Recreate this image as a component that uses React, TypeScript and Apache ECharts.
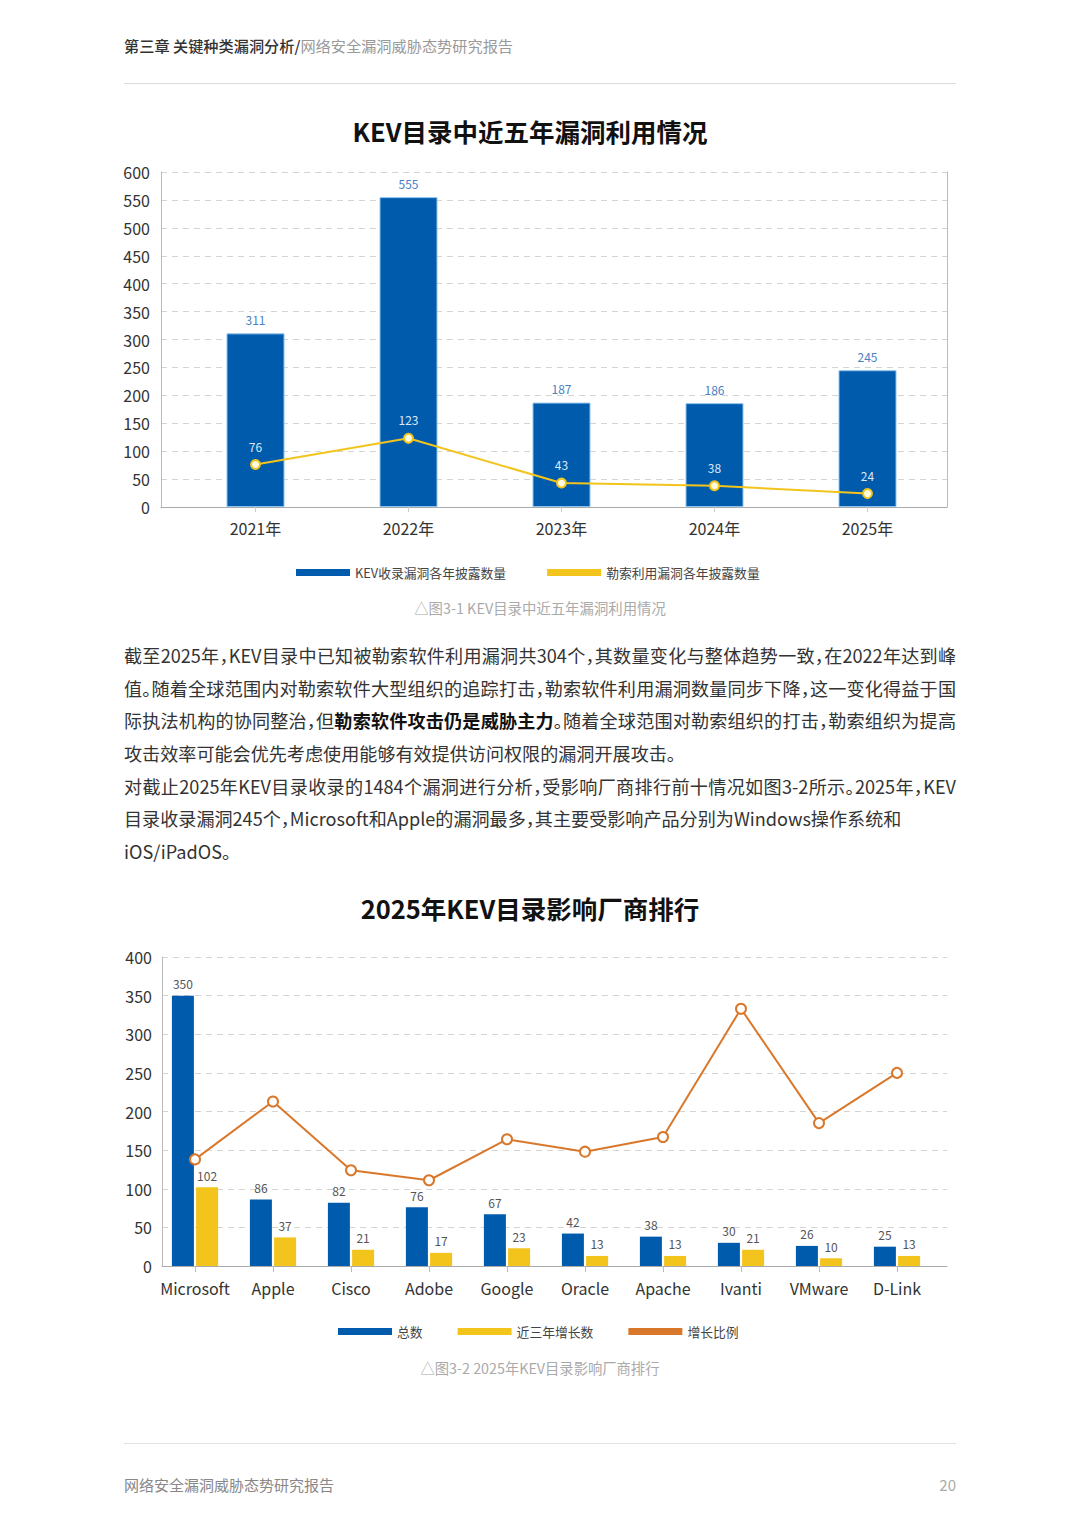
import React, { useEffect, useRef } from "react";
import * as echarts from "echarts";

const years = ["2021年", "2022年", "2023年", "2024年", "2025年"];
const kevCounts = [311, 555, 187, 186, 245];
const ransomCounts = [76, 123, 43, 38, 24];
const yTicks1 = [0, 600, 50];

const vendors = ["Microsoft", "Apple", "Cisco", "Adobe", "Google", "Oracle", "Apache", "Ivanti", "VMware", "D-Link"];
const vendorTotals = [350, 86, 82, 76, 67, 42, 38, 30, 26, 25];
const vendorGrowth3y = [102, 37, 21, 17, 23, 13, 13, 21, 10, 13];
const vendorGrowthRatio = [138, 213, 124, 111, 164, 148, 167, 333, 185, 250];
const yTicks2 = [0, 400, 50];

const BLUE = "#005bac";
const YELLOW = "#f2c41c";
const ORANGE = "#d9772b";
const FONT = "'Noto Sans CJK SC', 'Noto Sans', sans-serif";

const paraLines: { parts: { t: string; b?: boolean }[]; justify: boolean }[] = [
  { parts: [{ t: "截至2025年，KEV目录中已知被勒索软件利用漏洞共304个，其数量变化与整体趋势一致，在2022年达到峰" }], justify: true },
  { parts: [{ t: "值。随着全球范围内对勒索软件大型组织的追踪打击，勒索软件利用漏洞数量同步下降，这一变化得益于国" }], justify: true },
  { parts: [{ t: "际执法机构的协同整治，但" }, { t: "勒索软件攻击仍是威胁主力", b: true }, { t: "。随着全球范围对勒索组织的打击，勒索组织为提高" }], justify: true },
  { parts: [{ t: "攻击效率可能会优先考虑使用能够有效提供访问权限的漏洞开展攻击。" }], justify: false },
  { parts: [{ t: "对截止2025年KEV目录收录的1484个漏洞进行分析，受影响厂商排行前十情况如图3-2所示。2025年，KEV" }], justify: true },
  { parts: [{ t: "目录收录漏洞245个，Microsoft和Apple的漏洞最多，其主要受影响产品分别为Windows操作系统和" }], justify: false },
  { parts: [{ t: "iOS/iPadOS。" }], justify: false },
];

const frameX = (gridIndex: number) => ({
  gridIndex,
  type: "value",
  min: 0,
  max: 1,
  axisLine: { show: true, lineStyle: { color: "#aaa" } },
  axisTick: { show: false },
  axisLabel: { show: false },
  splitLine: { show: false },
});

function Chart1() {
  const ref = useRef<HTMLDivElement>(null);
  useEffect(() => {
    const chart = echarts.init(ref.current!, null, { renderer: "svg" });
    const gTop = 72;
    const gBottom = 83;
    chart.setOption({
      animation: false,
      textStyle: { fontFamily: FONT },
      title: {
        text: "KEV目录中近五年漏洞利用情况",
        left: 525,
        textAlign: "center",
        top: 13,
        textStyle: { fontSize: 25.5, fontWeight: "bold", color: "#111", fontFamily: FONT },
      },
      legend: {
        left: 296,
        top: 466,
        padding: 0,
        itemWidth: 54,
        itemHeight: 7,
        itemGap: 41,
        icon: "rect",
        textStyle: { fontSize: 12.8, color: "#444", fontFamily: FONT },
        data: [
          { name: "KEV收录漏洞各年披露数量", itemStyle: { color: BLUE, borderWidth: 0 } },
          { name: "勒索利用漏洞各年披露数量", itemStyle: { color: YELLOW, borderWidth: 0 } },
        ],
      },
      grid: [
        { left: 161, right: 133, top: gTop, bottom: gBottom },
        { left: 179, right: 136, top: gTop, bottom: gBottom },
      ],
      xAxis: [
        frameX(0),
        {
          gridIndex: 1,
          type: "category",
          data: years,
          axisLine: { show: false },
          axisTick: { show: true, alignWithLabel: true, length: 5, lineStyle: { color: "#ccc" } },
          axisLabel: { fontSize: 16, color: "#333", margin: 13, fontFamily: FONT },
        },
      ],
      yAxis: [
        {
          gridIndex: 0,
          type: "value",
          min: yTicks1[0],
          max: yTicks1[1],
          interval: yTicks1[2],
          axisLine: { show: true, lineStyle: { color: "#bbb" } },
          axisTick: { show: false },
          axisLabel: { fontSize: 16, color: "#333", margin: 11, fontFamily: FONT },
          splitLine: { lineStyle: { type: [6, 5], color: "#d4d4d4" } },
        },
        {
          gridIndex: 0,
          type: "value",
          position: "right",
          min: yTicks1[0],
          max: yTicks1[1],
          interval: yTicks1[2],
          axisLine: { show: true, lineStyle: { color: "#bbb" } },
          axisTick: { show: false },
          axisLabel: { show: false },
          splitLine: { show: false },
        },
        {
          gridIndex: 1,
          type: "value",
          min: yTicks1[0],
          max: yTicks1[1],
          interval: yTicks1[2],
          show: false,
          splitLine: { show: false },
        },
      ],
      series: [
        {
          name: "KEV收录漏洞各年披露数量",
          type: "bar",
          xAxisIndex: 1,
          yAxisIndex: 2,
          data: kevCounts,
          barWidth: 58,
          itemStyle: { color: BLUE, borderColor: "#8cc4ee", borderWidth: 1 },
          label: { show: true, position: "top", distance: 8, fontSize: 12, color: "#4a80c0", fontFamily: FONT },
        },
        {
          name: "勒索利用漏洞各年披露数量",
          type: "line",
          xAxisIndex: 1,
          yAxisIndex: 2,
          data: ransomCounts,
          symbol: "circle",
          symbolSize: 9,
          lineStyle: { color: YELLOW, width: 2 },
          itemStyle: { color: "#fffbe0", borderColor: YELLOW, borderWidth: 2 },
          label: { show: true, position: "top", distance: 7, fontSize: 12, color: "#dbe8f7", fontFamily: FONT },
          z: 5,
        },
      ],
    });
    return () => chart.dispose();
  }, []);
  return <div ref={ref} style={{ position: "absolute", left: 0, top: 100, width: 1080, height: 490 }} />;
}

function Chart2() {
  const ref = useRef<HTMLDivElement>(null);
  useEffect(() => {
    const chart = echarts.init(ref.current!, null, { renderer: "svg" });
    const gTop = 87;
    const gBottom = 84;
    chart.setOption({
      animation: false,
      textStyle: { fontFamily: FONT },
      title: {
        text: "2025年KEV目录影响厂商排行",
        left: 525,
        textAlign: "center",
        top: 20,
        textStyle: { fontSize: 25.5, fontWeight: "bold", color: "#111", fontFamily: FONT },
      },
      legend: {
        left: 338,
        top: 455,
        padding: 0,
        itemWidth: 54,
        itemHeight: 7,
        itemGap: 35,
        icon: "rect",
        textStyle: { fontSize: 12.8, color: "#444", fontFamily: FONT },
        data: [
          { name: "总数", itemStyle: { color: BLUE, borderWidth: 0 } },
          { name: "近三年增长数", itemStyle: { color: YELLOW, borderWidth: 0 } },
          { name: "增长比例", itemStyle: { color: ORANGE, borderWidth: 0 } },
        ],
      },
      grid: [
        { left: 162, right: 133, top: gTop, bottom: gBottom },
        { left: 156, right: 144, top: gTop, bottom: gBottom },
      ],
      xAxis: [
        frameX(0),
        {
          gridIndex: 1,
          type: "category",
          data: vendors,
          axisLine: { show: false },
          axisTick: { show: true, alignWithLabel: true, length: 6, lineStyle: { color: "#bbb" } },
          axisLabel: { interval: 0, fontSize: 16, color: "#333", margin: 14, fontFamily: FONT },
        },
      ],
      yAxis: [
        {
          gridIndex: 0,
          type: "value",
          min: yTicks2[0],
          max: yTicks2[1],
          interval: yTicks2[2],
          axisLine: { show: true, lineStyle: { color: "#bbb" } },
          axisTick: { show: false },
          axisLabel: { fontSize: 16, color: "#333", margin: 10, fontFamily: FONT },
          splitLine: { lineStyle: { type: [6, 5], color: "#d4d4d4" } },
        },
        {
          gridIndex: 1,
          type: "value",
          min: yTicks2[0],
          max: yTicks2[1],
          interval: yTicks2[2],
          show: false,
          splitLine: { show: false },
        },
      ],
      series: [
        {
          name: "总数",
          type: "bar",
          xAxisIndex: 1,
          yAxisIndex: 1,
          data: vendorTotals,
          barWidth: 22,
          barGap: "10%",
          itemStyle: { color: BLUE },
          label: { show: true, position: "top", distance: 6, fontSize: 12, color: "#555", fontFamily: FONT },
        },
        {
          name: "近三年增长数",
          type: "bar",
          xAxisIndex: 1,
          yAxisIndex: 1,
          data: vendorGrowth3y,
          barWidth: 22,
          barGap: "10%",
          itemStyle: { color: YELLOW },
          label: { show: true, position: "top", distance: 6, fontSize: 12, color: "#555", fontFamily: FONT },
        },
        {
          name: "增长比例",
          type: "line",
          xAxisIndex: 1,
          yAxisIndex: 1,
          data: vendorGrowthRatio,
          symbol: "circle",
          symbolSize: 10,
          lineStyle: { color: ORANGE, width: 2 },
          itemStyle: { color: "#fff", borderColor: ORANGE, borderWidth: 2 },
          z: 5,
        },
      ],
    });
    return () => chart.dispose();
  }, []);
  return <div ref={ref} style={{ position: "absolute", left: 0, top: 870, width: 1080, height: 480 }} />;
}

export default function App() {
  useEffect(() => {
    document.body.style.margin = "0";
  }, []);
  return (
    <div style={{ position: "relative", width: 1080, height: 1527, background: "#fff", fontFamily: FONT, overflow: "hidden" }}>
      <div style={{ position: "absolute", left: 124, top: 33, fontSize: 15.2, lineHeight: "24px", whiteSpace: "nowrap" }}>
        <span style={{ color: "#333", fontWeight: 500 }}>第三章 关键种类漏洞分析/</span>
        <span style={{ color: "#999" }}>网络安全漏洞威胁态势研究报告</span>
      </div>
      <div style={{ position: "absolute", left: 124, top: 83, width: 832, height: 1, background: "#dcdcdc" }} />

      <Chart1 />
      <div style={{ position: "absolute", left: 0, top: 597, width: 1080, textAlign: "center", fontSize: 14.4, lineHeight: "22px", color: "#aaa" }}>
        △图3-1 KEV目录中近五年漏洞利用情况
      </div>

      <div style={{ position: "absolute", left: 124, top: 639, width: 832 }}>
        {paraLines.map((ln, i) => (
          <div
            key={i}
            style={{
              fontSize: 18.1,
              lineHeight: "32.7px",
              height: 32.7,
              color: "#333",
              whiteSpace: "nowrap",
              fontFeatureSettings: '"halt"',
              textAlign: ln.justify ? "justify" : "left",
              textAlignLast: ln.justify ? "justify" : "left",
            }}
          >
            {ln.parts.map((p, j) => (
              <span key={j} style={{ fontWeight: p.b ? 700 : 400, color: p.b ? "#111" : "#333" }}>{p.t}</span>
            ))}
          </div>
        ))}
      </div>

      <Chart2 />
      <div style={{ position: "absolute", left: 0, top: 1357, width: 1080, textAlign: "center", fontSize: 14.3, lineHeight: "22px", color: "#aaa" }}>
        △图3-2 2025年KEV目录影响厂商排行
      </div>

      <div style={{ position: "absolute", left: 124, top: 1443, width: 832, height: 1, background: "#e2e2e2" }} />
      <div style={{ position: "absolute", left: 124, top: 1474, fontSize: 15, lineHeight: "22px", color: "#888" }}>网络安全漏洞威胁态势研究报告</div>
      <div style={{ position: "absolute", left: 856, width: 100, top: 1474, fontSize: 15, lineHeight: "22px", color: "#aaa", textAlign: "right" }}>20</div>
    </div>
  );
}
